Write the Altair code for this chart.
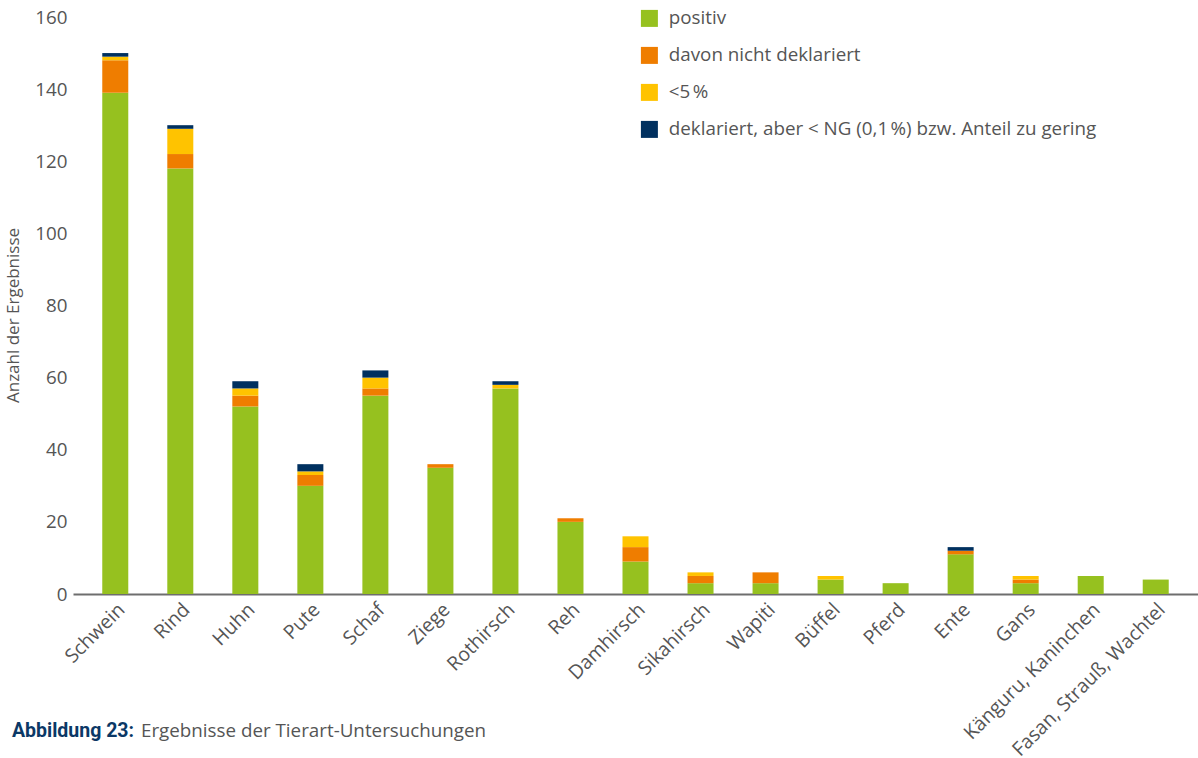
import altair as alt
import pandas as pd

categories = ["Schwein", "Rind", "Huhn", "Pute", "Schaf", "Ziege", "Rothirsch", "Reh",
              "Damhirsch", "Sikahirsch", "Wapiti", "Büffel", "Pferd", "Ente", "Gans",
              "Känguru, Kaninchen", "Fasan, Strauß, Wachtel"]
positiv     = [139, 118, 52, 30, 55, 35, 57, 20, 9, 3, 3, 4, 3, 11, 3, 5, 4]
nicht_dekl  = [9, 4, 3, 3, 2, 1, 0, 1, 4, 2, 3, 0, 0, 1, 1, 0, 0]
unter5      = [1, 7, 2, 1, 3, 0, 1, 0, 3, 1, 0, 1, 0, 0, 1, 0, 0]
unter_ng    = [1, 1, 2, 2, 2, 0, 1, 0, 0, 0, 0, 0, 0, 1, 0, 0, 0]

series_names = ["positiv", "davon nicht deklariert", "<5\u202f%",
                "deklariert, aber < NG (0,1\u202f%) bzw. Anteil zu gering"]
series_values = [positiv, nicht_dekl, unter5, unter_ng]
colors = ["#96C11F", "#EF7D00", "#FFC300", "#00305F"]

rows = []
for si, (name, vals) in enumerate(zip(series_names, series_values)):
    for cat, v in zip(categories, vals):
        rows.append({"Tierart": cat, "Serie": name, "Wert": v, "ord": si})
df = pd.DataFrame(rows)

FONT = "Open Sans"
GRAY = "#555555"
FS = 18.8

bars = alt.Chart(df).mark_bar().encode(
    x=alt.X("Tierart:N", sort=categories,
            scale=alt.Scale(paddingInner=0.6, paddingOuter=0.45),
            axis=alt.Axis(title=None, labelAngle=-45, labelFontSize=19.5, labelColor=GRAY,
                          labelFont=FONT, ticks=False, domainColor="#6e6e6e", domainWidth=2,
                          labelPadding=6, labelAlign="right", labelBaseline="top",
                          labelOverlap=False, labelLimit=400)),
    y=alt.Y("Wert:Q", stack="zero", scale=alt.Scale(domain=[0, 160], nice=False),
            axis=alt.Axis(title="Anzahl der Ergebnisse", values=[0, 20, 40, 60, 80, 100, 120, 140, 160],
                          grid=False, domain=False, ticks=False, labelFontSize=FS,
                          labelColor=GRAY, labelFont=FONT, labelPadding=6,
                          titleFont=FONT, titleFontSize=17, titleColor=GRAY,
                          titleFontWeight="normal", titlePadding=12, titleY=298)),
    color=alt.Color("Serie:N", scale=alt.Scale(domain=series_names, range=colors),
                    legend=alt.Legend(title=None, orient="none", legendX=567, legendY=-8,
                                      symbolType="square", symbolSize=289, symbolStrokeWidth=0,
                                      labelFontSize=FS, labelColor=GRAY, labelFont=FONT,
                                      rowPadding=17, labelOffset=10, padding=0,
                                      labelLimit=600)),
    order=alt.Order("ord:Q", sort="ascending"),
)

cap_df = pd.DataFrame({"a": [0]})
cap1 = alt.Chart(cap_df).mark_text(
    text="Abbildung 23:", font="Roboto", fontSize=19.5, fontWeight="bold", color="#0B3866",
    align="left", baseline="alphabetic"
).encode(x=alt.value(-61), y=alt.value(720))
cap2 = alt.Chart(cap_df).mark_text(
    text="Ergebnisse der Tierart-Untersuchungen", font=FONT, fontSize=FS, color=GRAY,
    align="left", baseline="alphabetic"
).encode(x=alt.value(68), y=alt.value(720))

chart = alt.layer(bars, cap1, cap2).properties(
    width=1125, height=577,
    autosize=alt.AutoSizeParams(type="none"),
    padding={"left": 73, "top": 17, "right": 0, "bottom": 164},
).configure_view(stroke=None)

chart.save("out.html", embed_options={"renderer": "svg", "actions": False})
